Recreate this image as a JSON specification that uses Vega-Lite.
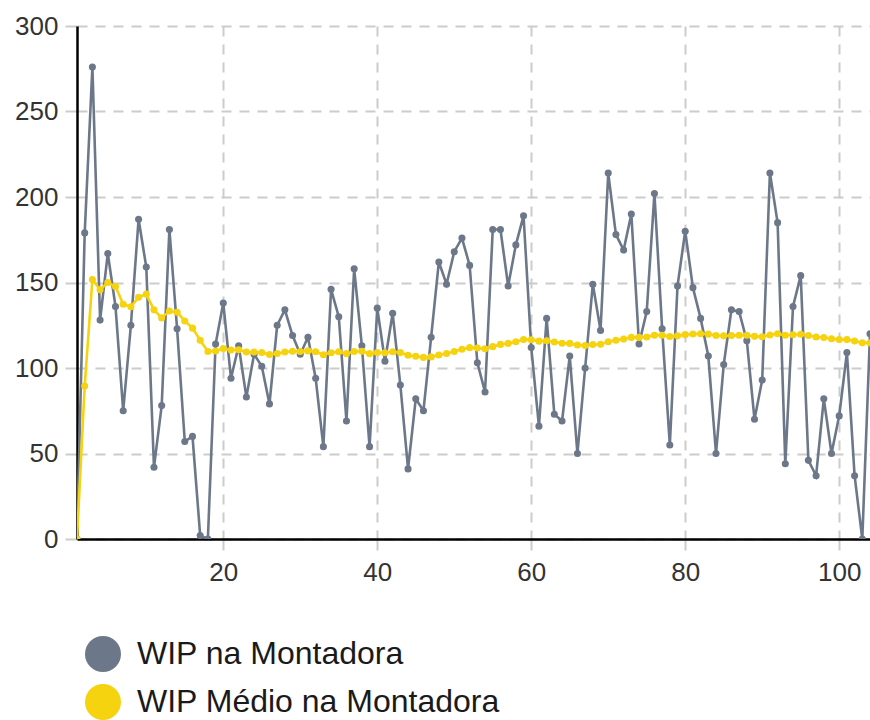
{
  "$schema": "https://vega.github.io/schema/vega-lite/v6.json",
  "autosize": "none",
  "width": 793,
  "height": 513,
  "padding": {"left": 77, "top": 26, "right": 0, "bottom": 181},
  "background": "white",
  "config": {
    "view": {"stroke": null},
    "font": "Liberation Sans",
    "axis": {
      "gridColor": "#cccccc", "gridWidth": 2, "gridDash": [10, 8],
      "domainColor": "#000000", "domainWidth": 2.5,
      "tickColor": "#cccccc", "tickWidth": 2, "tickSize": 11,
      "labelFont": "Liberation Sans", "labelFontSize": 26, "labelColor": "#333333",
      "title": null
    }
  },
  "data": {"values": [
    {"t":1,"wip":0,"med":0},{"t":2,"wip":179,"med":89.5},{"t":3,"wip":276,"med":151.7},{"t":4,"wip":128,"med":145.8},
    {"t":5,"wip":167,"med":150},{"t":6,"wip":136,"med":147.7},{"t":7,"wip":75,"med":137.3},{"t":8,"wip":125,"med":135.8},
    {"t":9,"wip":187,"med":141.4},{"t":10,"wip":159,"med":143.2},{"t":11,"wip":42,"med":134},{"t":12,"wip":78,"med":129.3},
    {"t":13,"wip":181,"med":133.3},{"t":14,"wip":123,"med":132.6},{"t":15,"wip":57,"med":127.5},{"t":16,"wip":60,"med":123.3},
    {"t":17,"wip":2,"med":116.2},{"t":18,"wip":0,"med":109.7},{"t":19,"wip":114,"med":109.9},{"t":20,"wip":138,"med":111.4},
    {"t":21,"wip":94,"med":110.5},{"t":22,"wip":113,"med":110.6},{"t":23,"wip":83,"med":109.4},{"t":24,"wip":108,"med":109.4},
    {"t":25,"wip":101,"med":109},{"t":26,"wip":79,"med":107.9},{"t":27,"wip":125,"med":108.5},{"t":28,"wip":134,"med":109.4},
    {"t":29,"wip":119,"med":109.8},{"t":30,"wip":108,"med":109.7},{"t":31,"wip":118,"med":110},{"t":32,"wip":94,"med":109.5},
    {"t":33,"wip":54,"med":107.8},{"t":34,"wip":146,"med":108.9},{"t":35,"wip":130,"med":109.5},{"t":36,"wip":69,"med":108.4},
    {"t":37,"wip":158,"med":109.7},{"t":38,"wip":113,"med":109.8},{"t":39,"wip":54,"med":108.4},{"t":40,"wip":135,"med":109.1},
    {"t":41,"wip":104,"med":108.9},{"t":42,"wip":132,"med":109.5},{"t":43,"wip":90,"med":109},{"t":44,"wip":41,"med":107.5},
    {"t":45,"wip":82,"med":106.9},{"t":46,"wip":75,"med":106.2},{"t":47,"wip":118,"med":106.5},{"t":48,"wip":162,"med":107.6},
    {"t":49,"wip":149,"med":108.5},{"t":50,"wip":168,"med":109.7},{"t":51,"wip":176,"med":111},{"t":52,"wip":160,"med":111.9},
    {"t":53,"wip":103,"med":111.7},{"t":54,"wip":86,"med":111.3},{"t":55,"wip":181,"med":112.5},{"t":56,"wip":181,"med":113.8},
    {"t":57,"wip":148,"med":114.4},{"t":58,"wip":172,"med":115.3},{"t":59,"wip":189,"med":116.6},{"t":60,"wip":112,"med":116.5},
    {"t":61,"wip":66,"med":115.7},{"t":62,"wip":129,"med":115.9},{"t":63,"wip":73,"med":115.2},{"t":64,"wip":69,"med":114.5},
    {"t":65,"wip":107,"med":114.4},{"t":66,"wip":50,"med":113.4},{"t":67,"wip":100,"med":113.2},{"t":68,"wip":149,"med":113.7},
    {"t":69,"wip":122,"med":113.9},{"t":70,"wip":214,"med":115.3},{"t":71,"wip":178,"med":116.2},{"t":72,"wip":169,"med":116.9},
    {"t":73,"wip":190,"med":117.9},{"t":74,"wip":114,"med":117.9},{"t":75,"wip":133,"med":118.1},{"t":76,"wip":202,"med":119.2},
    {"t":77,"wip":123,"med":119.2},{"t":78,"wip":55,"med":118.4},{"t":79,"wip":148,"med":118.8},{"t":80,"wip":180,"med":119.5},
    {"t":81,"wip":147,"med":119.9},{"t":82,"wip":129,"med":120},{"t":83,"wip":107,"med":119.8},{"t":84,"wip":50,"med":119},
    {"t":85,"wip":102,"med":118.8},{"t":86,"wip":134,"med":119},{"t":87,"wip":133,"med":119.1},{"t":88,"wip":116,"med":119.1},
    {"t":89,"wip":70,"med":118.5},{"t":90,"wip":93,"med":118.3},{"t":91,"wip":214,"med":119.3},{"t":92,"wip":185,"med":120},
    {"t":93,"wip":44,"med":119.2},{"t":94,"wip":136,"med":119.4},{"t":95,"wip":154,"med":119.7},{"t":96,"wip":46,"med":119},
    {"t":97,"wip":37,"med":118.1},{"t":98,"wip":82,"med":117.8},{"t":99,"wip":50,"med":117.1},{"t":100,"wip":72,"med":116.6},
    {"t":101,"wip":109,"med":116.6},{"t":102,"wip":37,"med":115.8},{"t":103,"wip":0,"med":114.7},{"t":104,"wip":120,"med":114.7}
  ]},
  "encoding": {
    "x": {"field": "t", "type": "quantitative",
      "scale": {"domain": [1, 104], "nice": false, "zero": false},
      "axis": {"values": [20, 40, 60, 80, 100], "labelPadding": 9, "domain": true, "gridDash": [10, 8]}},
    "color": {"datum": "WIP na Montadora", "type": "nominal",
      "scale": {"domain": ["WIP na Montadora", "WIP Médio na Montadora"], "range": ["#6c7889", "#f6d30f"]},
      "legend": {
        "orient": "none", "legendX": 8, "legendY": 610, "direction": "vertical",
        "symbolType": "circle", "symbolSize": 1296, "symbolStrokeWidth": 0,
        "labelFontSize": 32, "labelFont": "Liberation Sans", "labelColor": "#1a1a1a",
        "labelOffset": 16, "rowPadding": 12, "labelLimit": 600, "title": null,
        "encode": {"symbols": {"update": {"fill": {"scale": "color", "field": "value"}, "opacity": {"value": 1}}}}
      }}
  },
  "layer": [
    {
      "mark": {"type": "line", "strokeWidth": 2.6, "clip": true},
      "encoding": {
        "y": {"field": "wip", "type": "quantitative",
          "scale": {"domain": [0, 300], "nice": false},
          "axis": {"values": [0, 50, 100, 150, 200, 250, 300], "labelPadding": 7, "tickSize": 12}}
      }
    },
    {
      "mark": {"type": "point", "filled": true, "size": 50, "opacity": 1, "clip": true},
      "encoding": {"y": {"field": "wip", "type": "quantitative"}}
    },
    {
      "mark": {"type": "line", "strokeWidth": 2.6, "clip": true},
      "encoding": {"y": {"field": "med", "type": "quantitative"}, "color": {"datum": "WIP Médio na Montadora", "type": "nominal"}}
    },
    {
      "mark": {"type": "point", "filled": true, "size": 50, "opacity": 1, "clip": true},
      "encoding": {"y": {"field": "med", "type": "quantitative"}, "color": {"datum": "WIP Médio na Montadora", "type": "nominal"}}
    }
  ]
}
